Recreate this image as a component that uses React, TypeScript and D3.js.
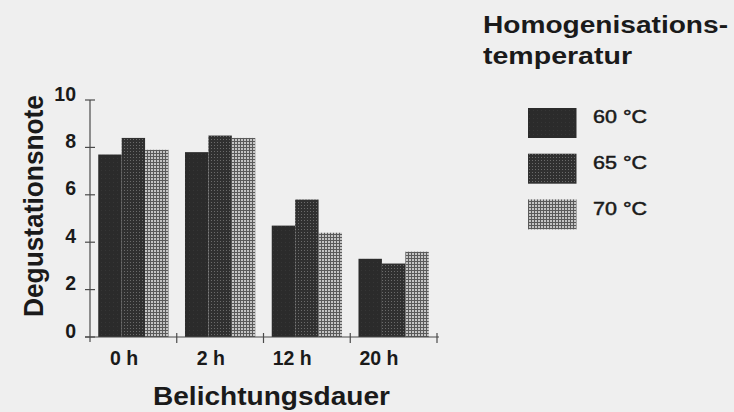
import React from "react";
import * as d3 from "d3";

const categories = ["0 h", "2 h", "12 h", "20 h"];
const series = ["60 °C", "65 °C", "70 °C"];
const values60 = [7.7, 7.8, 4.7, 3.3];
const values65 = [8.4, 8.5, 5.8, 3.1];
const values70 = [7.9, 8.4, 4.4, 3.6];
const yTicks = [0, 2, 4, 6, 8, 10];

const layout = {
  width: 734,
  height: 412,
  left: 90,
  right: 437,
  top: 100,
  bottom: 337
};

const font = "'Liberation Sans', Arial, sans-serif";
const fills = ["url(#p60)", "url(#p65)", "url(#p70)"];

export default function App() {
  const xScale = d3
    .scaleBand()
    .domain(categories)
    .range([layout.left, layout.right])
    .paddingInner(0.19)
    .paddingOuter(0.095);
  const inner = d3
    .scaleBand()
    .domain(series)
    .range([0, xScale.bandwidth()]);
  const yScale = d3.scaleLinear().domain([0, 10]).range([layout.bottom, layout.top]);

  const allValues = [values60, values65, values70];
  const step = xScale.step();
  const boundaries = categories.map((c, i) => layout.left + step * (i + 1));

  const bars = categories.map((cat, ci) =>
    series.map((s, si) => {
      const v = allValues[si][ci];
      return (
        <rect
          key={cat + s}
          x={(xScale(cat) || 0) + (inner(s) || 0)}
          y={yScale(v)}
          width={inner.bandwidth()}
          height={yScale(0) - yScale(v)}
          fill={fills[si]}
        />
      );
    })
  );

  return (
    <div style={{ position: "absolute", left: 0, top: 0 }}>
      <svg width={layout.width} height={layout.height} style={{ display: "block" }}>
        <defs>
          <pattern id="p60" width="4" height="4" patternUnits="userSpaceOnUse">
            <rect width="4" height="4" fill="#2b2b2b" />
            <rect x="1" y="2" width="1" height="1" fill="#363636" />
          </pattern>
          <pattern id="p65" width="3" height="3" patternUnits="userSpaceOnUse">
            <rect width="3" height="3" fill="#303030" />
            <rect x="1" y="1" width="1" height="1" fill="#6a6a6a" />
          </pattern>
          <pattern id="p70" width="3" height="3" patternUnits="userSpaceOnUse">
            <rect width="3" height="3" fill="#c4c4c4" />
            <rect x="0" y="0" width="3" height="1" fill="#5a5a5a" />
            <rect x="0" y="0" width="1" height="3" fill="#5a5a5a" />
          </pattern>
        </defs>
        <rect width={layout.width} height={layout.height} fill="#efefef" />

        {bars}

        {/* axes */}
        <g stroke="#4a4a4a" strokeWidth={1.2}>
          <line x1={layout.left} x2={layout.left} y1={layout.top} y2={layout.bottom + 5} />
          <line x1={layout.left - 5} x2={layout.right + 2} y1={layout.bottom} y2={layout.bottom} />
          {yTicks.map(t => (
            <line key={t} x1={layout.left - 5} x2={layout.left + 5} y1={yScale(t)} y2={yScale(t)} />
          ))}
          {boundaries.map((b, i) => (
            <line key={i} x1={b} x2={b} y1={layout.bottom - 4} y2={layout.bottom + 6} />
          ))}
        </g>

        <g fontFamily={font} fontWeight="bold" fill="#1a1a1a">
          {yTicks.map(t => (
            <text key={t} x={76} y={yScale(t) + 0.5} fontSize={19.5} textAnchor="end">
              {t}
            </text>
          ))}
          {categories.map(c => (
            <text
              key={c}
              x={(xScale(c) || 0) + 40}
              y={365}
              fontSize={19.5}
              textAnchor="end"
            >
              {c}
            </text>
          ))}
          <text
            transform={`translate(43, 317) rotate(-90)`}
            fontSize={27}
            textLength={222}
            lengthAdjust="spacingAndGlyphs"
          >
            Degustationsnote
          </text>
          <text x={153} y={405} fontSize={25} textLength={237} lengthAdjust="spacingAndGlyphs">
            Belichtungsdauer
          </text>
          <text x={483} y={33} fontSize={23.5} textLength={245} lengthAdjust="spacingAndGlyphs">
            Homogenisations-
          </text>
          <text x={483} y={64} fontSize={23.5} textLength={149} lengthAdjust="spacingAndGlyphs">
            temperatur
          </text>
          {series.map((s, i) => (
            <g key={s}>
              <rect x={528} y={108 + i * 45.7} width={48.5} height={30} fill={fills[i]} />
              <text
                x={593}
                y={123.3 + i * 46}
                fontSize={18.5}
                fontWeight="normal"
                stroke="#1a1a1a"
                strokeWidth={0.5}
                textLength={54}
                lengthAdjust="spacingAndGlyphs"
              >
                {s}
              </text>
            </g>
          ))}
        </g>
      </svg>
    </div>
  );
}
